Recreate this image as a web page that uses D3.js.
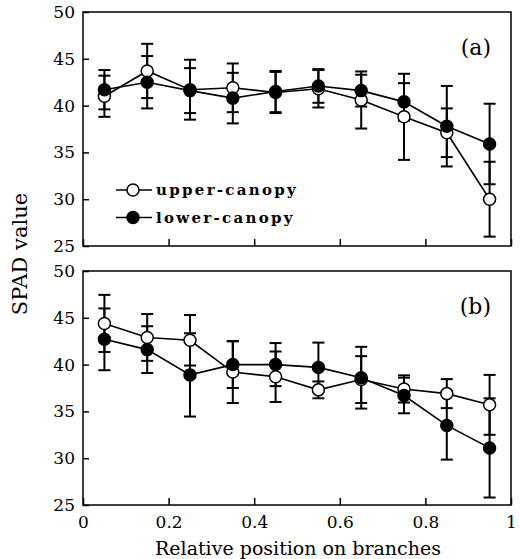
<!DOCTYPE html>
<html>
<head>
<meta charset="utf-8">
<script src="https://cdn.jsdelivr.net/npm/d3@7"></script>
<style>
  body { margin: 0; background: #fff; }
  text { font-family: "DejaVu Serif", "Liberation Serif", serif; fill: #000; }
</style>
</head>
<body>
<svg id="chart" width="521" height="559"></svg>
<script>
// relative position on branches
const positions = [0.05, 0.15, 0.25, 0.35, 0.45, 0.55, 0.65, 0.75, 0.85, 0.95];

// panel (a)
const aUpper    = [41.0, 43.7, 41.7, 41.9, 41.4, 41.8, 40.6, 38.8, 37.1, 30.0];
const aUpperErr = [2.2, 2.9, 3.2, 2.6, 2.2, 2.0, 3.05, 4.6, 2.6, 4.0];
const aLower    = [41.7, 42.5, 41.6, 40.8, 41.5, 42.1, 41.6, 40.4, 37.8, 35.9];
const aLowerErr = [2.1, 2.8, 2.4, 2.7, 2.2, 1.8, 1.7, 2.0, 4.3, 4.3];

// panel (b)
const bUpper    = [44.4, 42.9, 42.6, 39.2, 38.7, 37.3, 38.4, 37.4, 36.9, 35.7];
const bUpperErr = [3.05, 2.5, 2.7, 3.3, 2.7, 0.9, 2.5, 1.45, 1.55, 3.2];
const bLower    = [42.7, 41.6, 38.9, 40.0, 40.0, 39.7, 38.6, 36.7, 33.5, 31.1];
const bLowerErr = [3.3, 2.5, 4.45, 2.5, 2.3, 2.65, 3.3, 1.9, 3.65, 5.3];

const yTicks = [25, 30, 35, 40, 45, 50];
const xTicks = [0, 0.2, 0.4, 0.6, 0.8, 1];
const seriesNames = ['upper-canopy', 'lower-canopy'];

const svg = d3.select('#chart');

const x = d3.scaleLinear().domain([0, 1]).range([83, 511]);

const panels = [
  { label: '(a)', top: 12, bottom: 246, upper: aUpper, upperErr: aUpperErr, lower: aLower, lowerErr: aLowerErr, xLabels: false, legend: true },
  { label: '(b)', top: 271, bottom: 505, upper: bUpper, upperErr: bUpperErr, lower: bLower, lowerErr: bLowerErr, xLabels: true, legend: false }
];

panels.forEach(p => {
  const y = d3.scaleLinear().domain([25, 50]).range([p.bottom, p.top]);
  const g = svg.append('g');

  // frame
  g.append('rect')
    .attr('x', x(0)).attr('y', p.top)
    .attr('width', x(1) - x(0)).attr('height', p.bottom - p.top)
    .attr('fill', 'none').attr('stroke', '#000').attr('stroke-width', 1.5);

  // y axis, ticks inward
  const yAxis = d3.axisLeft(y).tickValues(yTicks).tickSizeInner(-6).tickSizeOuter(0).tickPadding(8);
  const yg = g.append('g').attr('transform', `translate(${x(0)},0)`).call(yAxis);
  yg.select('.domain').remove();
  yg.selectAll('line').attr('stroke', '#000').attr('stroke-width', 1.5);
  yg.selectAll('text').attr('font-size', 17).attr('font-family', '"DejaVu Serif", serif');

  // x axis, ticks inward
  const xAxis = d3.axisBottom(x).tickValues(xTicks).tickSizeInner(-7).tickSizeOuter(0).tickPadding(11)
    .tickFormat(d => p.xLabels ? (d === 0 || d === 1 ? d3.format('d')(d) : d3.format('.1f')(d)) : '');
  const xg = g.append('g').attr('transform', `translate(0,${p.bottom})`).call(xAxis);
  xg.select('.domain').remove();
  xg.selectAll('line').attr('stroke', '#000').attr('stroke-width', 1.5);
  xg.selectAll('text').attr('font-size', 17).attr('font-family', '"DejaVu Serif", serif');

  const series = [
    { vals: p.upper, err: p.upperErr, fill: '#fff' },
    { vals: p.lower, err: p.lowerErr, fill: '#000' }
  ];

  const line = d3.line().x((d, i) => x(positions[i])).y(d => y(d));

  series.forEach(s => {
    g.append('path').datum(s.vals)
      .attr('d', line).attr('fill', 'none')
      .attr('stroke', '#000').attr('stroke-width', 1.6);
  });

  series.forEach(s => {
    const eb = g.append('g');
    s.vals.forEach((v, i) => {
      const cx = x(positions[i]);
      const hi = y(v + s.err[i]), lo = y(v - s.err[i]);
      eb.append('line').attr('x1', cx).attr('x2', cx).attr('y1', hi).attr('y2', lo)
        .attr('stroke', '#000').attr('stroke-width', 2);
      [hi, lo].forEach(yy => {
        eb.append('line').attr('x1', cx - 6).attr('x2', cx + 6).attr('y1', yy).attr('y2', yy)
          .attr('stroke', '#000').attr('stroke-width', 2);
      });
    });
  });

  series.forEach(s => {
    g.selectAll(null).data(s.vals).enter().append('circle')
      .attr('cx', (d, i) => x(positions[i]))
      .attr('cy', d => y(d))
      .attr('r', 6)
      .attr('fill', s.fill)
      .attr('stroke', '#000').attr('stroke-width', 1.5);
  });

  g.append('text')
    .attr('x', 491).attr('y', p.top + 43)
    .attr('text-anchor', 'end').attr('font-size', 22)
    .text(p.label);

  if (p.legend) {
    const lg = g.append('g');
    seriesNames.forEach((name, i) => {
      const ly = 190 + i * 27.5;
      lg.append('line').attr('x1', 116).attr('x2', 152).attr('y1', ly).attr('y2', ly)
        .attr('stroke', '#000').attr('stroke-width', 1.6);
      lg.append('circle').attr('cx', 133).attr('cy', ly).attr('r', 6)
        .attr('fill', i === 0 ? '#fff' : '#000').attr('stroke', '#000').attr('stroke-width', 1.5);
      lg.append('text').attr('x', 156).attr('y', ly + 5)
        .attr('font-size', 15).attr('font-weight', 'bold').attr('letter-spacing', 2.3)
        .text(name);
    });
  }
});

// axis titles
svg.append('text')
  .attr('x', 298).attr('y', 555)
  .attr('text-anchor', 'middle').attr('font-size', 19)
  .text('Relative position on branches');

svg.append('text')
  .attr('transform', 'translate(27,254) rotate(-90)')
  .attr('text-anchor', 'middle').attr('font-size', 21)
  .text('SPAD value');
</script>
</body>
</html>
